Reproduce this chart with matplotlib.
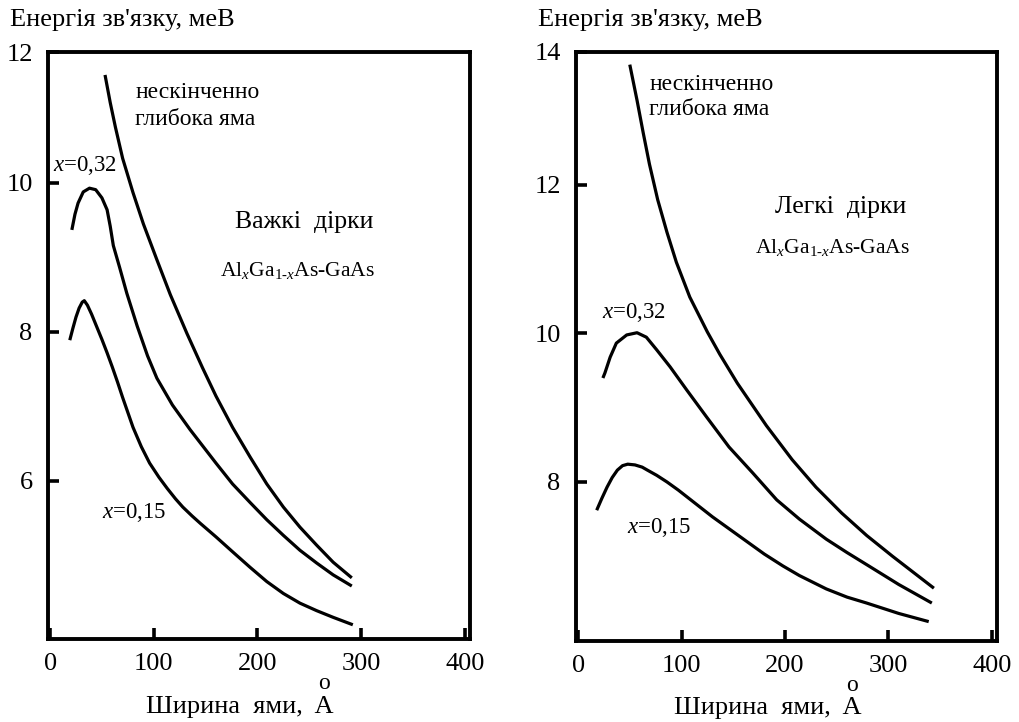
import matplotlib.pyplot as plt

# ---------- шрифти ----------
plt.rcParams['font.family'] = ['Liberation Serif', 'DejaVu Serif']
plt.rcParams['mathtext.fontset'] = 'custom'
plt.rcParams['mathtext.rm'] = 'Liberation Serif'
plt.rcParams['mathtext.it'] = 'Liberation Serif:italic'

# ---------- дані: важкі дірки (ліва панель) ----------
heavy_inf_x = [53, 58, 63, 70, 80, 90, 103, 116, 132, 147, 160, 176, 193, 209, 225, 241, 257, 273, 291]
heavy_inf_y = [11.45, 11.08, 10.75, 10.33, 9.87, 9.45, 8.97, 8.50, 7.98, 7.52, 7.14, 6.72, 6.32,
               5.96, 5.65, 5.38, 5.14, 4.91, 4.70]

heavy_032_x = [21, 24, 27, 32, 38, 44, 50, 55, 58, 61, 67, 74, 84, 94, 103, 118, 135, 145, 160,
               176, 193, 209, 225, 241, 257, 273, 291]
heavy_032_y = [9.37, 9.58, 9.73, 9.88, 9.93, 9.91, 9.80, 9.64, 9.42, 9.16, 8.87, 8.52, 8.08, 7.68,
               7.38, 7.02, 6.69, 6.51, 6.24, 5.96, 5.71, 5.48, 5.27, 5.07, 4.90, 4.74, 4.59]

heavy_015_x = [19, 22, 25, 28, 31, 33, 36, 40, 45, 50, 55, 60, 65, 70, 75, 80, 88, 96, 105, 113,
               121, 128, 137, 145, 160, 176, 193, 209, 225, 241, 257, 273, 292]
heavy_015_y = [7.89, 8.05, 8.20, 8.32, 8.40, 8.42, 8.36, 8.24, 8.07, 7.90, 7.72, 7.53, 7.33, 7.12,
               6.92, 6.72, 6.46, 6.24, 6.05, 5.90, 5.76, 5.65, 5.53, 5.43, 5.25, 5.05, 4.84, 4.65,
               4.49, 4.36, 4.26, 4.17, 4.07]

# ---------- дані: легкі дірки (права панель) ----------
light_inf_x = [50, 57, 63, 69, 77, 86, 95, 108, 125, 137, 154, 182, 207, 230, 255, 279, 304, 344]
light_inf_y = [13.62, 13.14, 12.70, 12.28, 11.80, 11.36, 10.96, 10.49, 10.02, 9.72, 9.33, 8.76,
               8.30, 7.93, 7.58, 7.28, 7.00, 6.57]

light_032_x = [24, 26, 31, 37, 47, 57, 66, 76, 89, 105, 124, 146, 169, 192, 214, 240, 260, 281,
               310, 342]
light_032_y = [9.40, 9.47, 9.68, 9.87, 9.98, 10.01, 9.95, 9.78, 9.55, 9.24, 8.88, 8.47, 8.12, 7.76,
               7.50, 7.23, 7.05, 6.87, 6.62, 6.37]

light_015_x = [18, 23, 28, 33, 38, 43, 48, 55, 62, 67, 76, 86, 97, 108, 119, 130, 146, 163, 180,
               198, 214, 240, 260, 279, 310, 339]
light_015_y = [7.62, 7.78, 7.93, 8.06, 8.16, 8.22, 8.24, 8.23, 8.20, 8.16, 8.09, 8.00, 7.89, 7.77,
               7.65, 7.53, 7.37, 7.20, 7.03, 6.87, 6.74, 6.56, 6.45, 6.37, 6.23, 6.12]

XTICKS = [0, 100, 200, 300, 400]
XTICK_LABELS = ['0', '100', '200', '300', '400']

# межі осей (верхня мітка стоїть на рамці, як в оригіналі)
LEFT_YLIM = (3.879, 11.758)
RIGHT_YLIM = (5.859, 13.79)
LEFT_YTICKS = [6, 8, 10, LEFT_YLIM[1]]
LEFT_YTICK_LABELS = ['6', '8', '10', '12']
RIGHT_YTICKS = [8, 10, 12, RIGHT_YLIM[1]]
RIGHT_YTICK_LABELS = ['8', '10', '12', '14']

YLABEL = "Енергія зв'язку, меВ"
XLABEL = "Ширина  ями,  A"
ALLOY = r"Al$_{\mathit{x}}$Ga$_{1\text{-}\mathit{x}}$As-GaAs"

LW = 2.3


def style_axes(ax, ylim, yticks, ylabels):
    ax.set_xlim(-2, 405)
    ax.set_ylim(*ylim)
    ax.set_xticks(XTICKS, XTICK_LABELS)
    ax.set_yticks(yticks, ylabels)
    ax.tick_params(direction='in', length=8, width=2.6, labelsize=19)
    ax.tick_params(axis='x', pad=10)
    ax.tick_params(axis='y', pad=11)
    for s in ax.spines.values():
        s.set_linewidth(2.8)


def xlabel(ax, y_text, y_ring):
    # "Ширина ями, Å" — кружечок над A окремим символом, як у джерелі
    ax.text(0.677, y_text, XLABEL, transform=ax.transAxes, ha='right', va='center', fontsize=19)
    ax.text(0.655, y_ring, "o", transform=ax.transAxes, ha='center', va='center', fontsize=17)


fig = plt.figure(figsize=(10.19, 7.22), dpi=100)

# ---------- ліва панель ----------
ax1 = fig.add_axes([48 / 1019, 1 - 639 / 722, 422 / 1019, 587 / 722])
for xs, ys in [(heavy_inf_x, heavy_inf_y), (heavy_032_x, heavy_032_y), (heavy_015_x, heavy_015_y)]:
    ax1.plot(xs, ys, color='black', lw=LW, solid_capstyle='butt', solid_joinstyle='round')
style_axes(ax1, LEFT_YLIM, LEFT_YTICKS, LEFT_YTICK_LABELS)
xlabel(ax1, -0.116, -0.075)
fig.text(10 / 1019, 1 - 20 / 722, YLABEL, ha='left', va='center', fontsize=19)
ax1.text(82, 11.21, "нескінченно", ha='left', va='center', fontsize=17)
ax1.text(82, 10.85, "глибока яма", ha='left', va='center', fontsize=17)
ax1.text(3, 10.24, r"$\mathit{x}$=0,32", ha='left', va='center', fontsize=16.5)
ax1.text(178, 9.48, "Важкі  дірки", ha='left', va='center', fontsize=18.5)
ax1.text(164, 8.83, ALLOY, ha='left', va='center', fontsize=15.5)
ax1.text(50, 5.58, r"$\mathit{x}$=0,15", ha='left', va='center', fontsize=16.5)

# ---------- права панель ----------
ax2 = fig.add_axes([576 / 1019, 1 - 641 / 722, 421 / 1019, 589 / 722])
for xs, ys in [(light_inf_x, light_inf_y), (light_032_x, light_032_y), (light_015_x, light_015_y)]:
    ax2.plot(xs, ys, color='black', lw=LW, solid_capstyle='butt', solid_joinstyle='round')
style_axes(ax2, RIGHT_YLIM, RIGHT_YTICKS, RIGHT_YTICK_LABELS)
xlabel(ax2, -0.114, -0.075)
fig.text(538 / 1019, 1 - 20 / 722, YLABEL, ha='left', va='center', fontsize=19)
ax2.text(69, 13.35, "нескінченно", ha='left', va='center', fontsize=17)
ax2.text(69, 13.01, "глибока яма", ha='left', va='center', fontsize=17)
ax2.text(23, 10.28, r"$\mathit{x}$=0,32", ha='left', va='center', fontsize=16.5)
ax2.text(190, 11.70, "Легкі  дірки", ha='left', va='center', fontsize=18.5)
ax2.text(171, 11.16, ALLOY, ha='left', va='center', fontsize=15.5)
ax2.text(47, 7.39, r"$\mathit{x}$=0,15", ha='left', va='center', fontsize=16.5)

fig.savefig('out.png', dpi=100)
